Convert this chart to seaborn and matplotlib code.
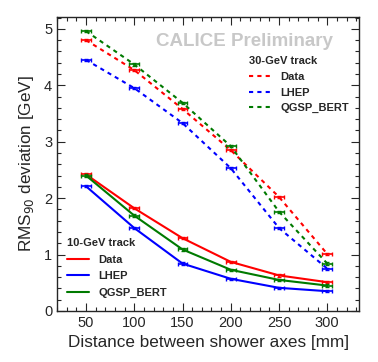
import numpy as np
import pandas as pd
import seaborn as sns
import matplotlib.pyplot as plt
from matplotlib.ticker import MultipleLocator
from matplotlib.lines import Line2D

sns.set_theme(style="ticks")
plt.rcParams['font.family'] = ['Liberation Sans', 'DejaVu Sans']

distance = [50, 100, 150, 200, 250, 300]

data30 = [4.80, 4.27, 3.58, 2.85, 2.02, 1.01]
lhep30 = [4.45, 3.95, 3.33, 2.53, 1.47, 0.75]
qgsp30 = [4.96, 4.37, 3.69, 2.92, 1.76, 0.84]

data10 = [2.42, 1.82, 1.29, 0.87, 0.63, 0.51]
lhep10 = [2.21, 1.47, 0.84, 0.57, 0.41, 0.35]
qgsp10 = [2.40, 1.69, 1.09, 0.73, 0.55, 0.45]

models = ["Data", "LHEP", "QGSP_BERT"]
colors = {"Data": "#ff0000", "LHEP": "#0000ff", "QGSP_BERT": "#007a00"}

rows = []
for track, series in [("30", [data30, lhep30, qgsp30]), ("10", [data10, lhep10, qgsp10])]:
    for m, vals in zip(models, series):
        for d, v in zip(distance, vals):
            rows.append({"track": track, "model": m, "distance": d, "rms": v})
df = pd.DataFrame(rows)

fig = plt.figure(figsize=(3.78, 3.62), dpi=100)
ax = fig.add_axes([0.151, 0.141, 0.799, 0.812])

for track, ls in [("30", (0, (2, 2))), ("10", "-")]:
    for m in models:
        sub = df[(df.track == track) & (df.model == m)]
        sns.lineplot(x="distance", y="rms", data=sub, color=colors[m], linewidth=1.5,
                     ax=ax, legend=False)
        ax.lines[-1].set_linestyle(ls)
        ax.errorbar(sub.distance, sub.rms, xerr=5, yerr=0.02, fmt="none",
                    ecolor=colors[m], elinewidth=1.2, capsize=1.5, capthick=1.0)

ax.set_xlim(20, 333)
ax.set_ylim(0, 5.21)
ax.xaxis.set_major_locator(MultipleLocator(50))
ax.xaxis.set_minor_locator(MultipleLocator(10))
ax.yaxis.set_major_locator(MultipleLocator(1))
ax.yaxis.set_minor_locator(MultipleLocator(0.2))
ax.tick_params(which="both", direction="in", top=True, right=True, labelsize=10.5, width=0.8)
ax.tick_params(which="major", length=6)
ax.tick_params(which="minor", length=3)
ax.set_xticks([50, 100, 150, 200, 250, 300])
ax.set_xlabel("Distance between shower axes [mm]", fontsize=12.3)
ax.set_ylabel("RMS$_{90}$ deviation [GeV]", fontsize=12.3, labelpad=6)
for s in ax.spines.values():
    s.set_linewidth(1.0)

ax.text(0.914, 0.915, "CALICE Preliminary", transform=ax.transAxes, ha="right", va="center",
        fontsize=13.5, fontweight="bold", color="#c8c8c8")

h30 = [Line2D([], [], color=colors[m], linestyle=(0, (2, 2)), linewidth=1.5) for m in models]
leg30 = ax.legend(h30, models, title="30-GeV track", loc="upper right",
                  bbox_to_anchor=(1.0, 0.90), frameon=False, fontsize=8,
                  title_fontproperties={"weight": "bold", "size": 8},
                  prop={"weight": "bold", "size": 8}, handlelength=2.0, labelspacing=0.5)
leg30._legend_box.align = "left"
ax.add_artist(leg30)

h10 = [Line2D([], [], color=colors[m], linestyle="-", linewidth=1.5) for m in models]
leg10 = ax.legend(h10, models, title="10-GeV track", loc="lower left",
                  bbox_to_anchor=(0.0, 0.01), frameon=False,
                  title_fontproperties={"weight": "bold", "size": 8},
                  prop={"weight": "bold", "size": 8}, handlelength=2.0, labelspacing=0.6)
leg10._legend_box.align = "left"

fig.savefig("out.png", dpi=100)
